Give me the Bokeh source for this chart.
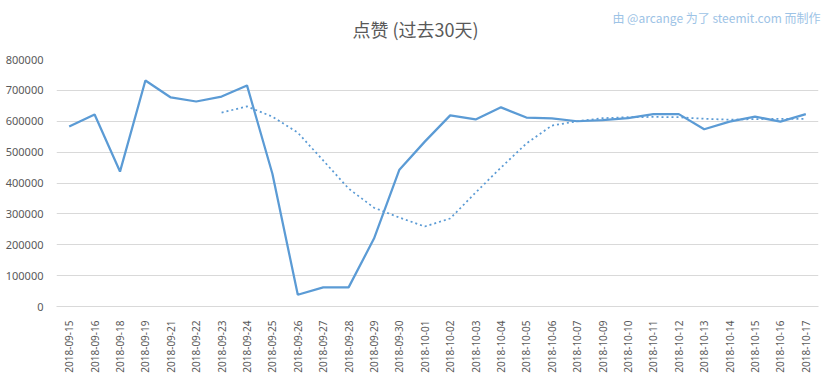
from bokeh.plotting import figure
from bokeh.models import FactorRange, Range1d, Title, NumeralTickFormatter, FixedTicker
from bokeh.embed import file_html
from bokeh.resources import INLINE

dates = ["2018-09-15", "2018-09-16", "2018-09-18", "2018-09-19", "2018-09-21",
         "2018-09-22", "2018-09-23", "2018-09-24", "2018-09-25", "2018-09-26",
         "2018-09-27", "2018-09-28", "2018-09-29", "2018-09-30", "2018-10-01",
         "2018-10-02", "2018-10-03", "2018-10-04", "2018-10-05", "2018-10-06",
         "2018-10-07", "2018-10-09", "2018-10-10", "2018-10-11", "2018-10-12",
         "2018-10-13", "2018-10-14", "2018-10-15", "2018-10-16", "2018-10-17"]

votes = [583000, 622000, 437000, 732000, 677000,
         664000, 680000, 716000, 430000, 38000,
         62000, 62000, 220000, 443000, 534000,
         619000, 606000, 645000, 612000, 609000,
         600000, 604000, 610000, 623000, 623000,
         574000, 599000, 615000, 599000, 623000]

ma_dates = dates[6:]
ma_values = [628000, 648000, 615000, 563000, 473000, 382000, 320000, 288000, 259000,
             285000, 369000, 450000, 528000, 586000, 600000, 610000, 613000, 614000,
             613000, 608000, 605000, 607000, 608000, 608000]

y_ticks = [0, 100000, 200000, 300000, 400000, 500000, 600000, 700000, 800000]

title_text = "点赞 (过去30天)"
credit_text = "由 @arcange 为了 steemit.com 而制作"

p = figure(x_range=FactorRange(*dates), y_range=Range1d(0, 800000),
           width=832, height=379, output_backend="svg", toolbar_location=None,
           title=None,
           min_border_left=56, min_border_right=14, min_border_top=59, min_border_bottom=73)
p.outline_line_color = None
p.background_fill_color = "white"
p.border_fill_color = "white"

# spacer between frame and title
p.add_layout(Title(text=" ", standoff=4, text_font="Noto Sans CJK SC",
                   text_font_size="12px"), "above")
p.add_layout(Title(text=title_text, align="left", offset=296, standoff=-10,
                   text_font="Noto Sans CJK SC", text_font_size="18px",
                   text_font_style="normal", text_color="#595959"), "above")
p.add_layout(Title(text=credit_text, align="right", offset=-2, standoff=-15,
                   text_font="Noto Sans CJK SC", text_font_size="12px",
                   text_font_style="normal", text_color="#9dc3e6"), "above")

blue = "#5b9bd5"
p.line(dates, votes, line_color=blue, line_width=2.25)
p.line(ma_dates, ma_values, line_color=blue, line_width=1.75, line_dash="2 3")

p.xgrid.grid_line_color = None
p.ygrid.grid_line_color = "#d9d9d9"
p.ygrid.grid_line_width = 1
p.yaxis.ticker = FixedTicker(ticks=y_ticks)
p.yaxis.formatter = NumeralTickFormatter(format="0")
p.yaxis.axis_line_color = None
p.yaxis.major_tick_line_color = None
p.yaxis.minor_tick_line_color = None
p.yaxis.major_label_standoff = 7
p.yaxis.major_label_text_font = "Noto Sans"
p.yaxis.major_label_text_font_size = "11px"
p.yaxis.major_label_text_color = "#595959"

p.xaxis.axis_line_color = "#d9d9d9"
p.xaxis.major_tick_line_color = None
p.xaxis.minor_tick_line_color = None
p.xaxis.major_label_orientation = 1.5708
p.xaxis.major_label_standoff = 8
p.xaxis.major_label_text_font = "Noto Sans"
p.xaxis.major_label_text_font_size = "10px"
p.xaxis.major_label_text_color = "#595959"

open("out.html", "w").write(file_html(p, INLINE))
